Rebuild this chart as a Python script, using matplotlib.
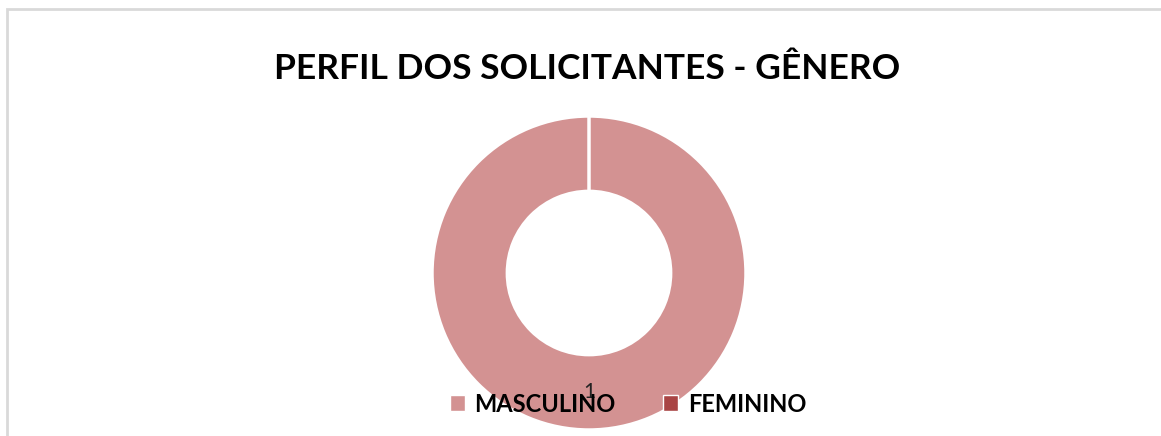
import matplotlib
matplotlib.use("Agg")
import matplotlib.pyplot as plt
from matplotlib.patches import Rectangle, Patch

title = "PERFIL DOS SOLICITANTES - GÊNERO"
categories = ["MASCULINO", "FEMININO"]
values = [1, 0]
colors = ["#d39292", "#a94444"]

W, H = 1161, 436
fig = plt.figure(figsize=(W / 100, H / 100), dpi=100)
fig.patch.set_facecolor("white")

# outer border
fig.add_artist(Rectangle((6.5 / W, -0.1), 1.5, (H - 9.5) / H + 0.1,
                         transform=fig.transFigure, fill=False,
                         edgecolor="#d9d9d9", linewidth=2))

cx, cy, r = 589, 273, 157
ax = fig.add_axes([(cx - r) / W, (H - cy - r) / H, 2 * r / W, 2 * r / H])
wedges, _ = ax.pie(values, colors=colors, startangle=90, counterclock=False,
                   radius=1.0, wedgeprops=dict(width=0.48, edgecolor="white",
                                               linewidth=2.5))
ax.set_xlim(-1, 1)
ax.set_ylim(-1, 1)
ax.axis("off")
ax.text(0, -0.76, str(values[0]), ha="center", va="center", fontsize=15,
        family="Lato", color="#222222")

fig.text(587 / W, 1 - 69 / H, title, ha="center", va="center",
         fontsize=25.5, fontweight="bold", family="Lato", color="black")

handles = [Patch(facecolor=c, edgecolor="white") for c in colors]
fig.legend(handles, categories, loc="center", ncol=2,
           bbox_to_anchor=(628 / W, 1 - 404 / H), frameon=False,
           prop=dict(family="Lato", weight="bold", size=17),
           handlelength=0.65, handleheight=0.65, handletextpad=0.4,
           columnspacing=2.0)

fig.savefig("out.png", dpi=100)
